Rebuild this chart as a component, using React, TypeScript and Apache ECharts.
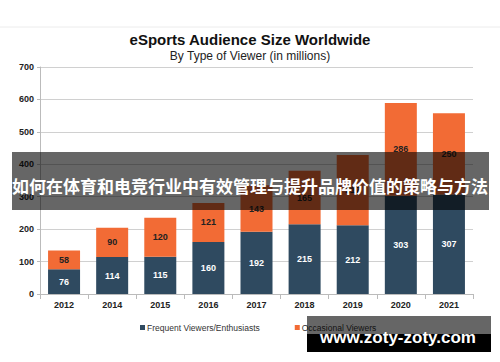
import React, { useEffect, useRef } from "react";
import * as echarts from "echarts";

const years = ["2012", "2014", "2015", "2016", "2017", "2018", "2019", "2020", "2021"];
const frequent = [76, 114, 115, 160, 192, 215, 212, 303, 307];
const occasional = [58, 90, 120, 121, 143, 165, 217, 286, 250];
const yTicks = { min: 0, max: 700, interval: 100 };

export default function App() {
  const ref = useRef<HTMLDivElement>(null);
  useEffect(() => {
    const chart = echarts.init(ref.current!, null, { renderer: "svg" });
    const font = "'Liberation Sans', Arial, sans-serif";
    chart.setOption({
      animation: false,
      backgroundColor: "#ffffff",
      textStyle: { fontFamily: font },
      title: {
        text: "eSports Audience Size Worldwide",
        subtext: "By Type of Viewer (in millions)",
        left: "center",
        top: 27,
        itemGap: 3,
        textStyle: { fontSize: 15, fontWeight: "bold", color: "#111", fontFamily: font },
        subtextStyle: { fontSize: 12, color: "#222", fontFamily: font },
      },
      legend: {
        top: 318,
        left: 135,
        icon: "rect",
        itemWidth: 5,
        itemHeight: 5,
        itemGap: 35,
        textStyle: { fontSize: 8.5, color: "#333", padding: [0, 0, 0, -3] },
        data: ["Frequent Viewers/Enthusiasts", "Occasional Viewers"],
      },
      grid: { left: 40, right: 27, top: 67, bottom: 68 },
      xAxis: {
        type: "category",
        data: years,
        axisLine: { lineStyle: { color: "#bbb" } },
        axisTick: { show: true, lineStyle: { color: "#bbb" } },
        axisLabel: { fontSize: 9, fontWeight: "bold", color: "#222", margin: 6 },
      },
      yAxis: {
        type: "value",
        min: yTicks.min,
        max: yTicks.max,
        interval: yTicks.interval,
        axisLine: { show: true, lineStyle: { color: "#bbb" } },
        axisTick: { show: true, length: 3, lineStyle: { color: "#bbb" } },
        splitLine: { lineStyle: { color: "#d0d0d0" } },
        axisLabel: { fontSize: 9, fontWeight: "bold", color: "#222", margin: 6 },
      },
      series: [
        {
          name: "Frequent Viewers/Enthusiasts",
          type: "bar",
          stack: "a",
          barWidth: 32,
          data: frequent,
          itemStyle: { color: "#2f4a60" },
          label: { show: true, position: "inside", fontSize: 9, fontWeight: "bold", color: "#fff" },
        },
        {
          name: "Occasional Viewers",
          type: "bar",
          stack: "a",
          barWidth: 32,
          data: occasional,
          itemStyle: { color: "#f26b35" },
          label: { show: true, position: "inside", fontSize: 9, fontWeight: "bold", color: "#222" },
        },
      ],
      graphic: [
        { type: "line", shape: { x1: 0, y1: 27, x2: 500, y2: 27 }, style: { stroke: "#ececec", lineWidth: 1 } },
        { type: "rect", shape: { x: 12, y: 152, width: 477, height: 58 }, style: { fill: "rgba(0,0,0,0.6)" }, z: 100 },
        {
          type: "text",
          x: 250,
          y: 185,
          z: 101,
          style: {
            text: "如何在体育和电竞行业中有效管理与提升品牌价值的策略与方法",
            fill: "#fff",
            fontSize: 17,
            fontWeight: "bold",
            fontFamily: "'Noto Sans CJK SC', sans-serif",
            align: "center",
            verticalAlign: "middle",
          },
        },
        { type: "rect", shape: { x: 307, y: 316, width: 184, height: 18 }, style: { fill: "rgba(0,0,0,0.6)" }, z: 100 },
        { type: "rect", shape: { x: 307, y: 334, width: 184, height: 18 }, style: { fill: "#000" }, z: 100 },
        {
          type: "text",
          x: 398,
          y: 337,
          z: 101,
          style: {
            text: "www.zoty-zoty.com",
            fill: "#fff",
            fontSize: 17,
            fontWeight: "bold",
            fontFamily: "'Liberation Sans', Arial, sans-serif",
            align: "center",
            verticalAlign: "middle",
          },
        },
      ],
    });
    return () => chart.dispose();
  }, []);
  return <div ref={ref} style={{ width: 500, height: 362, position: "absolute", left: 0, top: 0 }} />;
}
